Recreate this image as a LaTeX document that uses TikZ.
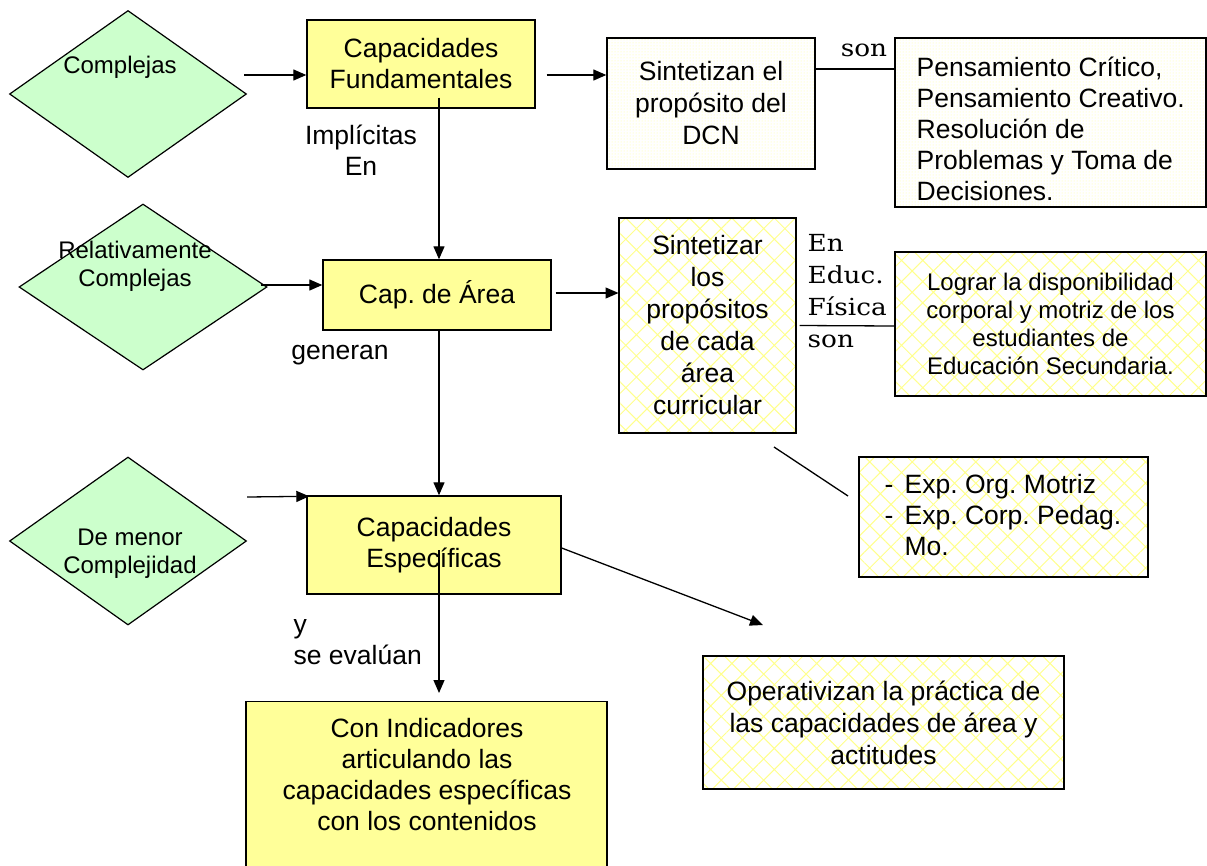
\documentclass[tikz,border=0pt]{standalone}
\usepackage{fontspec}
\setmainfont{Liberation Sans}
\newfontfamily\labelserif[FakeStretch=1.12]{DejaVu Serif}
\usetikzlibrary{shapes.geometric,patterns,patterns.meta,arrows.meta,calc}
\definecolor{capyellow}{HTML}{FFFF99}
\definecolor{rombogreen}{HTML}{CCFFCC}
\tikzset{
  capbox/.style={draw, line width=1.4pt, fill=capyellow, inner sep=0pt, align=center, font=\fontsize{26.5}{31}\selectfont},
  dotbox/.style={draw, line width=1.4pt, pattern=dots, pattern color=yellow!40, inner sep=0pt, align=center, font=\fontsize{26.5}{32}\selectfont},
  hatchbox/.style={draw, line width=1.4pt, pattern={Hatch[angle=45,distance=15pt,line width=1pt]}, pattern color=yellow!45, inner sep=0pt, align=center, font=\fontsize{26.5}{32}\selectfont},
  rombo/.style={draw, line width=1.2pt, fill=rombogreen, shape=diamond, inner sep=0pt},
  txt/.style={inner sep=0pt, align=center, font=\fontsize{26.5}{31}\selectfont},
  rtxt/.style={inner sep=0pt, align=center, font=\fontsize{24}{28}\selectfont},
  serif/.style={inner sep=0pt, align=left, font=\labelserif\fontsize{23.5}{32}\selectfont}
}
\begin{document}
\frenchspacing
\begin{tikzpicture}[x=1pt,y=-1pt,>={Triangle[length=13pt,width=11pt]},line width=1.3pt]
\useasboundingbox (0,0) rectangle (1207,865);
\clip (0,0) rectangle (1207,865);

% rombos
\node[rombo, minimum width=237pt, minimum height=167pt] (compl) at (128,94) {};
\node[rombo, minimum width=248pt, minimum height=166pt] (relcompl) at (143,287) {};
\node[rombo, minimum width=237pt, minimum height=168pt] (menorcompl) at (128,541) {};
\node[rtxt] (complT) at (120,67) {Complejas};
\node[rtxt] (relcomplT) at (135,266) {Relativamente\\Complejas};
\node[rtxt] (menorcomplT) at (130,554) {De menor\\Complejidad};

% capacidades
\node[capbox, minimum width=228pt, minimum height=88pt] (capfund) at (421,64) {Capacidades\\Fundamentales};
\node[capbox, minimum width=228pt, minimum height=70pt] (caparea) at (437,295) {Cap. de Área};
\node[capbox, minimum width=254pt, minimum height=98pt] (capesp) at (434,545) {Capacidades\\Específicas};
\node[capbox, minimum width=361pt, minimum height=180pt, anchor=north] (capind) at (426.5,701) {};
\node[txt] (capindT) at (427,775) {Con Indicadores\\articulando las\\capacidades específicas\\con los contenidos};

% cuadros de la derecha
\node[dotbox, minimum width=208pt, minimum height=131pt] (sintdcn) at (711,103.5) {Sintetizan el\\propósito del\\DCN};
\node[dotbox, minimum width=311pt, minimum height=169pt] (pensam) at (1050.5,122.5) {};
\node[txt, anchor=west, align=left] (pensamT) at (916,129) {Pensamiento Crítico,\\Pensamiento Creativo.\\Resolución de\\Problemas y Toma de\\Decisiones.};
\node[hatchbox, minimum width=177pt, minimum height=215pt] (sintarea) at (707.5,325.5) {Sintetizar\\los\\propósitos\\de cada\\área\\curricular};
\node[hatchbox, minimum width=311pt, minimum height=144pt, font=\fontsize{24}{28}\selectfont] (lograr) at (1050.5,324) {Lograr la disponibilidad\\corporal y motriz de los\\estudiantes de\\Educación Secundaria.};
\node[hatchbox, minimum width=289pt, minimum height=120pt] (expbox) at (1003.5,517) {};
\node[txt, anchor=west, align=left] (expT) at (884,515) {\makebox[20pt][l]{-}Exp. Org. Motriz\\\makebox[20pt][l]{-}Exp. Corp. Pedag.\\\hspace*{20pt}Mo.};
\node[hatchbox, minimum width=361pt, minimum height=133pt] (operat) at (883.5,722.5) {Operativizan la práctica de\\las capacidades de área y\\actitudes};

% etiquetas
\node[txt] (implicitas) at (361,150) {Implícitas\\En};
\node[txt] (generan) at (340,355) {generan};
\node[txt, anchor=west, align=left] (evaluan) at (293,642) {y\\se evalúan};
\node[serif] (son) at (864,50) {son};
\node[serif, anchor=west] (enfisica) at (807,291) {En\\Educ.\\Física\\son};

% flechas
\draw[->] ([xshift=-3pt,yshift=19pt]compl.east) -- ([yshift=-11pt]capfund.west);
\draw[->] ([xshift=-7pt,yshift=2pt]relcompl.east) -- ([yshift=10pt]caparea.west);
\draw[->] ([yshift=44pt]menorcompl.east) -- ([xshift=3pt,yshift=-1pt]capesp.north west);
\draw[->] ($(capfund.south)+(18,-11)$) -- ($(caparea.north)+(2,0)$);
\draw[->] ($(caparea.south)+(2,0)$) -- ($(capesp.north)+(5,0)$);
\draw[->] ($(capesp.center)+(5,5)$) -- ($(capind.north)+(12.5,-8)$);
\draw[->] ([xshift=11pt,yshift=-11pt]capfund.east) -- ([yshift=28.5pt]sintdcn.west);
\draw ([yshift=34.5pt]sintdcn.east) -- ([yshift=53.5pt]pensam.west);
\draw[->] ([xshift=4pt,yshift=2pt]caparea.east) -- ([yshift=32.5pt]sintarea.west);
\draw ([xshift=3pt]sintarea.east) -- ([yshift=-2pt]lograr.west);
\coordinate (trazoA) at (774,447);
\coordinate (trazoB) at (848,496);
\draw (trazoA) -- (trazoB);
\coordinate (operTip) at (763,625);
\draw[->] ([yshift=-3pt]capesp.east) -- (operTip);
\end{tikzpicture}
\end{document}
